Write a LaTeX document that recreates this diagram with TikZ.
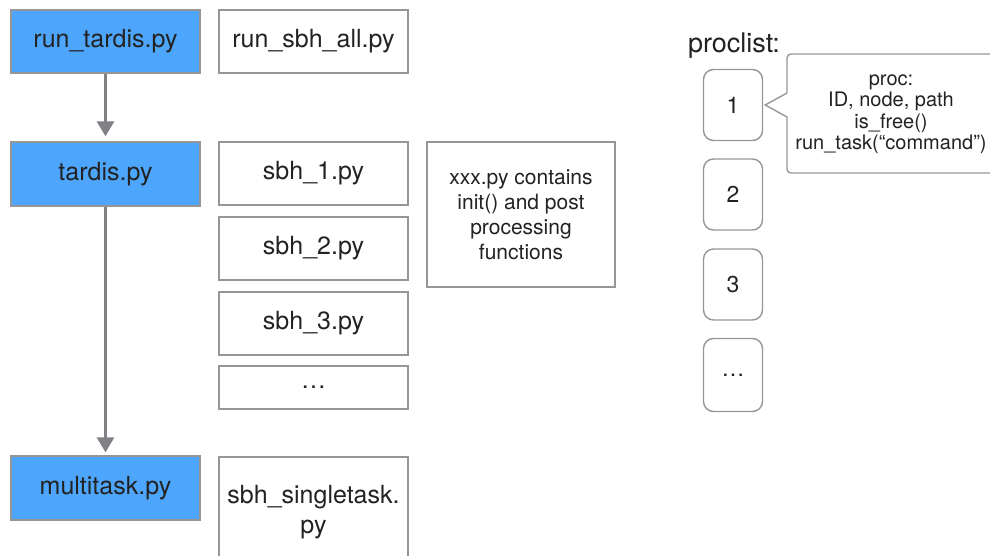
\documentclass[tikz,border=0pt]{standalone}
\usepackage{fontspec}
\setmainfont{TeX Gyre Heros}
\usetikzlibrary{arrows.meta}
\definecolor{fileblue}{RGB}{78,166,252}
\definecolor{edgegray}{RGB}{150,150,152}
\definecolor{arrowgray}{RGB}{128,128,133}
\definecolor{ink}{RGB}{34,34,34}
\tikzset{
  filebox/.style={draw=edgegray, line width=1.4pt, minimum width=189pt,
    minimum height=63pt, inner sep=0pt, text=ink, font=\fontsize{25}{30}\selectfont,
    align=center},
  mainbox/.style={filebox, fill=fileblue},
  procbox/.style={draw=edgegray, line width=1.4pt, rounded corners=10pt,
    minimum width=59pt, minimum height=71pt, inner sep=0pt, text=ink,
    font=\fontsize{23}{25}\selectfont},
  flow/.style={draw=arrowgray, line width=3pt,
    -{Triangle[width=17pt,length=15pt]}},
}
\begin{document}
\begin{tikzpicture}[x=1pt, y=-1pt]
\useasboundingbox (0,0) rectangle (990,556);
\begin{scope}
\clip (0,0) rectangle (990,556);

% driver chain
\node[mainbox] (runtardis) at (105.5,41.5) {run\_tardis.py};
\node[mainbox, minimum height=64pt] (tardis) at (105.5,174) {tardis.py};
\node[mainbox, minimum height=64pt] (multitask) at (105.5,488) {multitask.py};

% sbh scripts
\node[filebox] (runsbh) at (313.5,41.5) {run\_sbh\_all.py};
\node[filebox] (sbh1) at (313.5,173.5) {sbh\_1.py};
\node[filebox] (sbh2) at (313.5,248.5) {sbh\_2.py};
\node[filebox] (sbh3) at (313.5,323.5) {sbh\_3.py};
\node[filebox, minimum height=43pt] (sbhdots) at (313.5,387.5) {\dots};
\node[filebox, minimum height=110pt] (single) at (313.5,512)
  {sbh\_singletask.\\py};

% note
\node[draw=edgegray, line width=1.4pt, minimum width=188pt, minimum height=145pt,
  inner sep=0pt, text=ink, align=center, font=\fontsize{21}{25}\selectfont]
  (note) at (521,214.5) {xxx.py contains\\init() and post\\processing\\functions};

% process list
\node[text=ink, font=\fontsize{27}{30}\selectfont, inner sep=0pt] (proclist)
  at (734,46) {proclist:};
\node[procbox] (p1) at (733,105) {1};
\node[procbox] (p2) at (733,194.5) {2};
\node[procbox] (p3) at (733,284.5) {3};
\node[procbox, minimum height=73pt] (p4) at (733,375) {\dots};

% callout describing a proc entry
\node[text=ink, align=center, inner sep=0pt, font=\fontsize{20}{21.5}\selectfont]
  (callout) at (891,114) {proc:\\ID, node, path\\is\_free()\\run\_task(“command”)};
\coordinate (tip) at ([xshift=2pt]p1.east);
\draw[edgegray, line width=1.4pt, rounded corners=4pt]
  (787,93) [sharp corners]-- (tip) -- (787,117) [rounded corners=4pt]
  -- (787,173) -- (1000,173) -- (1000,54) -- (787,54) -- (787,93);

% call flow
\draw[flow, shorten >=5pt] (runtardis.south) -- (tardis.north);
\draw[flow, shorten >=3pt] (tardis.south) -- (multitask.north);
\end{scope}
\end{tikzpicture}
\end{document}
